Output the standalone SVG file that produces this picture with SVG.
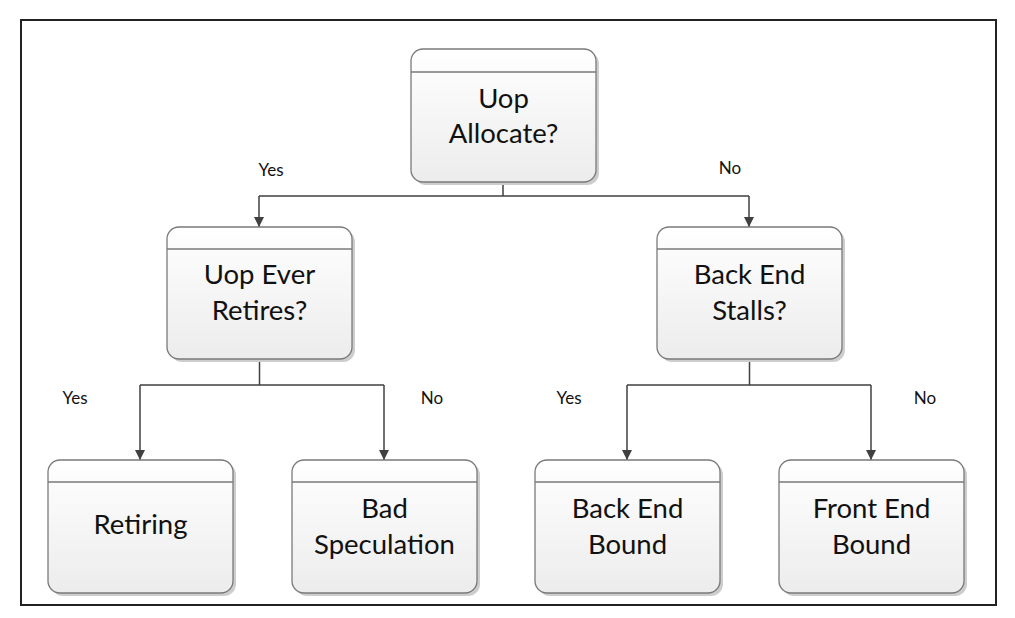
<svg xmlns="http://www.w3.org/2000/svg" width="1015" height="618" viewBox="0 0 1015 618">
<defs>
<linearGradient id="g" x1="0" y1="0" x2="0" y2="1">
<stop offset="0" stop-color="#ffffff"/>
<stop offset="1" stop-color="#ececec"/>
</linearGradient>
<marker id="arr" viewBox="0 0 10 10" refX="10" refY="5" markerWidth="10" markerHeight="10" markerUnits="userSpaceOnUse" orient="auto">
<path d="M0,0 L10,5 L0,10 z" fill="#404040"/>
</marker>
</defs>
<style>
.sh{fill:#cdcdcd}
.bx{fill:url(#g);stroke:#7a7a7a;stroke-width:1.3}
.hd{stroke:#7a7a7a;stroke-width:1.3}
.t{font-family:Lato,"Liberation Sans",sans-serif;font-size:27.5px;fill:#111;text-anchor:middle}
.l{font-family:Lato,"Liberation Sans",sans-serif;font-size:17px;fill:#111;text-anchor:middle}
.c{fill:none;stroke:#404040;stroke-width:1.5}
</style>
<rect x="0" y="0" width="1015" height="618" fill="#fff"/>
<rect x="21" y="20" width="975" height="585" fill="none" stroke="#222" stroke-width="2"/>
<g id="connectors">
<path class="c" d="M503,182 V196 M259,196 H749"/>
<path class="c" d="M259,196 V227" marker-end="url(#arr)"/>
<path class="c" d="M749,196 V227" marker-end="url(#arr)"/>
<path class="c" d="M259.5,359 V385 M140,385 H384"/>
<path class="c" d="M140,385 V460" marker-end="url(#arr)"/>
<path class="c" d="M384,385 V460" marker-end="url(#arr)"/>
<path class="c" d="M749.5,359 V385 M627,385 H871"/>
<path class="c" d="M627,385 V460" marker-end="url(#arr)"/>
<path class="c" d="M871,385 V460" marker-end="url(#arr)"/>
<text class="l" x="271" y="176">Yes</text>
<text class="l" x="730" y="174">No</text>
<text class="l" x="75" y="404">Yes</text>
<text class="l" x="432" y="404">No</text>
<text class="l" x="569" y="404">Yes</text>
<text class="l" x="925" y="404">No</text>
</g>
<g id="uop-allocate">
<rect class="sh" x="414" y="52" width="185" height="133" rx="12"/>
<rect class="bx" x="411" y="49" width="185" height="133" rx="12"/>
<line class="hd" x1="411" y1="72" x2="596" y2="72"/>
<text class="t" x="503.5" y="108">Uop</text>
<text class="t" x="503.5" y="143">Allocate?</text>
</g>
<g id="uop-ever-retires">
<rect class="sh" x="170" y="230" width="185" height="132" rx="12"/>
<rect class="bx" x="167" y="227" width="185" height="132" rx="12"/>
<line class="hd" x1="167" y1="249" x2="352" y2="249"/>
<text class="t" x="259.5" y="284">Uop Ever</text>
<text class="t" x="259.5" y="320">Retires?</text>
</g>
<g id="back-end-stalls">
<rect class="sh" x="660" y="230" width="185" height="132" rx="12"/>
<rect class="bx" x="657" y="227" width="185" height="132" rx="12"/>
<line class="hd" x1="657" y1="249" x2="842" y2="249"/>
<text class="t" x="749.5" y="284">Back End</text>
<text class="t" x="749.5" y="320">Stalls?</text>
</g>
<g id="retiring">
<rect class="sh" x="51" y="463" width="185" height="133" rx="12"/>
<rect class="bx" x="48" y="460" width="185" height="133" rx="12"/>
<line class="hd" x1="48" y1="482" x2="233" y2="482"/>
<text class="t" x="140.5" y="534">Retiring</text>
</g>
<g id="bad-speculation">
<rect class="sh" x="295" y="463" width="185" height="133" rx="12"/>
<rect class="bx" x="292" y="460" width="185" height="133" rx="12"/>
<line class="hd" x1="292" y1="482" x2="477" y2="482"/>
<text class="t" x="384.5" y="518">Bad</text>
<text class="t" x="384.5" y="554">Speculation</text>
</g>
<g id="back-end-bound">
<rect class="sh" x="538" y="463" width="185" height="133" rx="12"/>
<rect class="bx" x="535" y="460" width="185" height="133" rx="12"/>
<line class="hd" x1="535" y1="482" x2="720" y2="482"/>
<text class="t" x="627.5" y="518">Back End</text>
<text class="t" x="627.5" y="554">Bound</text>
</g>
<g id="front-end-bound">
<rect class="sh" x="782" y="463" width="185" height="133" rx="12"/>
<rect class="bx" x="779" y="460" width="185" height="133" rx="12"/>
<line class="hd" x1="779" y1="482" x2="964" y2="482"/>
<text class="t" x="871.5" y="518">Front End</text>
<text class="t" x="871.5" y="554">Bound</text>
</g>
</svg>
